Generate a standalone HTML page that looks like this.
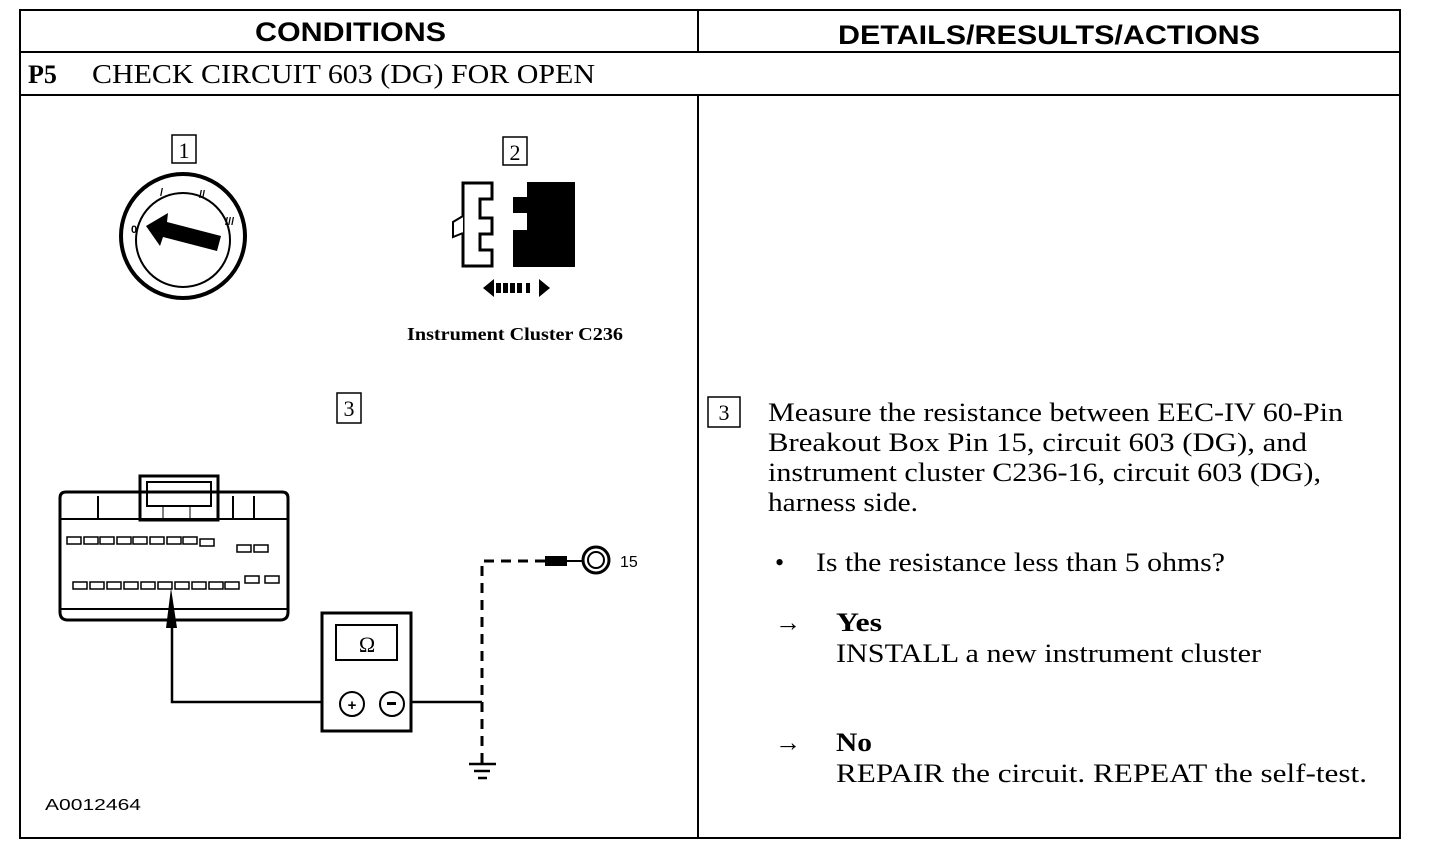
<!DOCTYPE html>
<html><head><meta charset="utf-8"><style>
html,body{margin:0;padding:0;background:#fff;}
svg{display:block;}
.s{font-family:"Liberation Serif",serif;}
.h{font-family:"Liberation Sans",sans-serif;font-weight:bold;}
.n{font-family:"Liberation Sans",sans-serif;font-weight:normal;}
</style></head><body>
<svg width="1440" height="852" viewBox="0 0 1440 852" xmlns="http://www.w3.org/2000/svg">
<g stroke="#000" stroke-width="2" fill="none">
<rect x="20" y="10" width="1380" height="828"/>
<line x1="20" y1="52" x2="1400" y2="52"/>
<line x1="20" y1="95" x2="1400" y2="95"/>
<line x1="698" y1="10" x2="698" y2="52"/>
<line x1="698" y1="95" x2="698" y2="838"/>
</g>
<text x="255" y="41" class="h" font-size="27" textLength="191" lengthAdjust="spacingAndGlyphs">CONDITIONS</text>
<text x="838" y="44" class="h" font-size="27" textLength="422" lengthAdjust="spacingAndGlyphs">DETAILS/RESULTS/ACTIONS</text>
<text x="28" y="83" class="s" font-size="26" font-weight="bold">P5</text>
<text x="92" y="83" class="s" font-size="27" textLength="503" lengthAdjust="spacingAndGlyphs">CHECK CIRCUIT 603 (DG) FOR OPEN</text>

<g stroke="#000" stroke-width="1.5" fill="none">
<rect x="172" y="135" width="24" height="28"/>
<rect x="503" y="137" width="24" height="28"/>
<rect x="337" y="393" width="24" height="30"/>
<rect x="708" y="397" width="32" height="30"/>
</g>
<text x="184" y="158" class="s" font-size="22" text-anchor="middle">1</text>
<text x="515" y="160" class="s" font-size="22" text-anchor="middle">2</text>
<text x="349" y="416" class="s" font-size="22" text-anchor="middle">3</text>
<text x="724" y="420" class="s" font-size="22" text-anchor="middle">3</text>

<circle cx="183" cy="236" r="62" stroke="#000" stroke-width="4" fill="none"/>
<circle cx="183" cy="240" r="47" stroke="#000" stroke-width="2" fill="none"/>
<polygon points="146,226 168,213 167,222 221,236 217,251 163,237 160,246" fill="#000"/>
<text x="131" y="233" class="h" font-size="11">0</text>
<text x="160" y="196" class="h" font-size="11">/</text>
<text x="199" y="198" class="h" font-size="11">//</text>
<text x="225" y="225" class="h" font-size="11">///</text>

<path d="M463,183 H492 V199 H480 V218 H492 V234 H480 V250 H492 V266 H463 Z" fill="#fff" stroke="#000" stroke-width="3"/>
<path d="M463,216 L453,222 V237 L463,233" fill="#fff" stroke="#000" stroke-width="2"/>
<path d="M527,182 H575 V267 H513 V230 H527 V213 H513 V197 H527 Z" fill="#000"/>
<polygon points="483,288 494,279 494,297" fill="#000"/>
<rect x="496" y="283" width="5" height="10" fill="#000"/>
<rect x="503" y="283" width="5" height="10" fill="#000"/>
<rect x="510" y="283" width="5" height="10" fill="#000"/>
<rect x="517" y="283" width="5" height="10" fill="#000"/>
<rect x="526" y="283" width="4" height="10" fill="#000"/>
<polygon points="550,288 539,279 539,297" fill="#000"/>
<text x="407" y="340" class="s" font-size="18" font-weight="bold" textLength="216" lengthAdjust="spacingAndGlyphs">Instrument Cluster C236</text>

<g stroke="#000" fill="none">
<path d="M66,492 H282 Q288,492 288,498 V612 Q288,620 280,620 H68 Q60,620 60,612 V498 Q60,492 66,492 Z" stroke-width="3"/>
<line x1="61" y1="519" x2="287" y2="519" stroke-width="2"/>
<line x1="61" y1="609" x2="287" y2="609" stroke-width="2"/>
<rect x="140" y="476" width="78" height="44" stroke-width="3"/>
<rect x="147" y="482" width="64" height="24" stroke-width="2"/>
<line x1="98" y1="496" x2="98" y2="519" stroke-width="2"/>
<line x1="233" y1="496" x2="233" y2="519" stroke-width="2"/>
<line x1="254" y1="496" x2="254" y2="519" stroke-width="2"/>
<line x1="163" y1="506" x2="163" y2="519" stroke-width="1"/>
<line x1="190" y1="506" x2="190" y2="519" stroke-width="1"/>
</g>
<g stroke="#000" stroke-width="1.5" fill="none">
<rect x="67" y="537" width="14" height="7"/><rect x="84" y="537" width="14" height="7"/><rect x="100" y="537" width="14" height="7"/><rect x="117" y="537" width="14" height="7"/><rect x="133" y="537" width="14" height="7"/><rect x="150" y="537" width="14" height="7"/><rect x="167" y="537" width="14" height="7"/><rect x="183" y="537" width="14" height="7"/>
<rect x="200" y="539" width="14" height="7"/><rect x="237" y="545" width="14" height="7"/><rect x="254" y="545" width="14" height="7"/>
<rect x="73" y="582" width="14" height="7"/><rect x="90" y="582" width="14" height="7"/><rect x="107" y="582" width="14" height="7"/><rect x="124" y="582" width="14" height="7"/><rect x="141" y="582" width="14" height="7"/><rect x="158" y="582" width="14" height="7"/><rect x="175" y="582" width="14" height="7"/><rect x="192" y="582" width="14" height="7"/><rect x="209" y="582" width="14" height="7"/><rect x="225" y="582" width="14" height="7"/>
<rect x="245" y="576" width="14" height="7"/><rect x="265" y="576" width="14" height="7"/>
</g>
<polygon points="171,588 166,628 177,628" fill="#000"/>
<path d="M172,628 V702 H328" stroke="#000" stroke-width="2.5" fill="none"/>
<path d="M405,702 H482" stroke="#000" stroke-width="2.5" fill="none"/>
<path d="M482,763 V561 H545" stroke="#000" stroke-width="3" stroke-dasharray="10,7" fill="none"/>
<rect x="545" y="556" width="22" height="10" fill="#000"/>
<line x1="567" y1="561" x2="582" y2="561" stroke="#000" stroke-width="2"/>
<circle cx="596" cy="560" r="13" stroke="#000" stroke-width="3" fill="none"/>
<circle cx="596" cy="560" r="8" stroke="#000" stroke-width="2" fill="none"/>
<text x="620" y="567" class="n" font-size="16">15</text>
<line x1="469" y1="764" x2="496" y2="764" stroke="#000" stroke-width="2.5"/>
<line x1="474" y1="771" x2="490" y2="771" stroke="#000" stroke-width="2.5"/>
<line x1="478" y1="778" x2="487" y2="778" stroke="#000" stroke-width="2.5"/>
<rect x="322" y="613" width="89" height="118" stroke="#000" stroke-width="3" fill="#fff"/>
<rect x="336" y="625" width="61" height="35" stroke="#000" stroke-width="2" fill="none"/>
<text x="367" y="652" class="s" font-size="22" text-anchor="middle">Ω</text>
<circle cx="352" cy="704" r="12" stroke="#000" stroke-width="2" fill="none"/>
<circle cx="392" cy="704" r="12" stroke="#000" stroke-width="2" fill="none"/>
<text x="352" y="710" class="h" font-size="15" text-anchor="middle">+</text>
<rect x="387" y="702" width="9" height="3" fill="#000"/>
<text x="45" y="810" class="n" font-size="16" textLength="96" lengthAdjust="spacingAndGlyphs">A0012464</text>

<g class="s" font-size="26">
<text x="768" y="421" textLength="575" lengthAdjust="spacingAndGlyphs">Measure the resistance between EEC-IV 60-Pin</text>
<text x="768" y="451" textLength="539" lengthAdjust="spacingAndGlyphs">Breakout Box Pin 15, circuit 603 (DG), and</text>
<text x="768" y="481" textLength="553" lengthAdjust="spacingAndGlyphs">instrument cluster C236-16, circuit 603 (DG),</text>
<text x="768" y="511" textLength="150" lengthAdjust="spacingAndGlyphs">harness side.</text>
<text x="775" y="571">•</text>
<text x="816" y="571" textLength="409" lengthAdjust="spacingAndGlyphs">Is the resistance less than 5 ohms?</text>
<text x="775" y="631">→</text>
<text x="836" y="631" font-weight="bold" textLength="46" lengthAdjust="spacingAndGlyphs">Yes</text>
<text x="836" y="662" textLength="425" lengthAdjust="spacingAndGlyphs">INSTALL a new instrument cluster</text>
<text x="775" y="751">→</text>
<text x="836" y="751" font-weight="bold" textLength="36" lengthAdjust="spacingAndGlyphs">No</text>
<text x="836" y="782" textLength="531" lengthAdjust="spacingAndGlyphs">REPAIR the circuit. REPEAT the self-test.</text>
</g>
</svg>
</body></html>
